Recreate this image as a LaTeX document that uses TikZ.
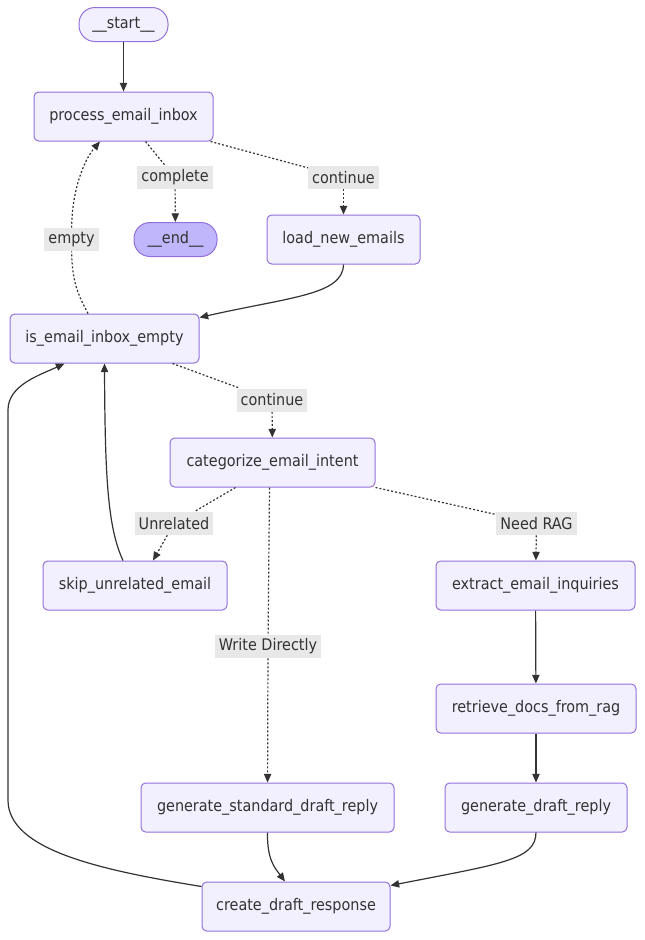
\documentclass[tikz,border=0pt]{standalone}
\usepackage{fontspec}
\setmainfont{DejaVu Sans Condensed}
\usetikzlibrary{arrows.meta}
\definecolor{nodefill}{HTML}{F2F0FF}
\definecolor{nodeline}{HTML}{9370DB}
\definecolor{endfill}{HTML}{BFB6FC}
\definecolor{lblfill}{HTML}{E8E8E8}
\definecolor{ink}{HTML}{333333}
\newcommand{\pxu}{0.75pt}

\begin{document}
\begin{tikzpicture}[x=0.75pt, y=-0.75pt,
        box/.style={draw=nodeline, fill=nodefill, line width=0.75pt, rounded corners=3.5pt,
            text=ink, font=\fontsize{12}{14}\selectfont, inner sep=0pt, minimum height=49*\pxu},
        term/.style={box, rounded corners=12pt, minimum height=34*\pxu},
        lbl/.style={fill=lblfill, text=ink, font=\fontsize{12}{14}\selectfont,
            inner xsep=3pt, inner ysep=0pt, minimum height=23*\pxu},
        flow/.style={draw=ink, line width=0.9pt, -{Triangle[length=6.5pt,width=5.5pt]}},
        dline/.style={draw=ink, line width=0.9pt, dash pattern=on 1.5pt off 1.5pt},
        dflow/.style={flow, dash pattern=on 1.5pt off 1.5pt}]
        \useasboundingbox[fill=white] (0,0) rectangle (644,940);

        % Graph nodes
        \node[term, minimum width=89*\pxu] (start) at (123.5,24.5) {\_\_start\_\_};
        \node[box, minimum width=179*\pxu] (process) at (123.5,116.5) {process\_email\_inbox};
        \node[term, fill=endfill, minimum width=83*\pxu] (end) at (175.5,239.5) {\_\_end\_\_};
        \node[box, minimum width=153*\pxu] (load) at (343.5,239.5) {load\_new\_emails};
        \node[box, minimum width=189*\pxu] (isempty) at (104.5,338.5) {is\_email\_inbox\_empty};
        \node[box, minimum width=205*\pxu] (categorize) at (272.5,462.5) {categorize\_email\_intent};
        \node[box, minimum width=184*\pxu] (skip) at (135,585.5) {skip\_unrelated\_email};
        \node[box, minimum width=199*\pxu] (extract) at (535.5,585.5) {extract\_email\_inquiries};
        \node[box, minimum width=200*\pxu] (retrieve) at (536,708.5) {retrieve\_docs\_from\_rag};
        \node[box, minimum width=253*\pxu] (genstd) at (267.5,807.5) {generate\_standard\_draft\_reply};
        \node[box, minimum width=182*\pxu] (gendraft) at (536,807.5) {generate\_draft\_reply};
        \node[box, minimum width=188*\pxu] (create) at (296,906.5) {create\_draft\_response};

        % Edge labels
        \node[lbl] (lcomplete) at (175,177.5) {complete};
        \node[lbl] (lcontA) at (343.5,177.5) {continue};
        \node[lbl] (lempty) at (71.5,239.5) {empty};
        \node[lbl] (lcontB) at (272,400) {continue};
        \node[lbl] (lunrel) at (174,523.5) {Unrelated};
        \node[lbl] (lrag) at (536.5,523.5) {Need RAG};
        \node[lbl] (lwrite) at (268,646.5) {Write Directly};

        % Straight solid edges
        \foreach \a/\b in {start/process, extract/retrieve, retrieve/gendraft}
            \draw[flow] (\a) -- (\b);

        % Conditional edges (dotted)
        \draw[dline] ([xshift=22*\pxu]process.south) -- (lcomplete);
        \draw[dflow] (lcomplete) -- (end);
        \draw[dline] ([xshift=-3*\pxu]process.south east) -- (lcontA);
        \draw[dflow] (lcontA) -- (load);
        \draw[dline] ([xshift=-16.5*\pxu]isempty.north) .. controls (80,298) and (72,285) .. (lempty);
        \draw[dflow] (lempty) .. controls (72,190) and (84,160) .. ([xshift=-23.5*\pxu]process.south);
        \draw[dline] ([xshift=68*\pxu]isempty.south) -- (lcontB);
        \draw[dflow] (lcontB) -- (categorize);
        \draw[dline] ([xshift=-37*\pxu]categorize.south) -- (lunrel);
        \draw[dflow] (lunrel) -- ([xshift=18*\pxu]skip.north);
        \draw[dline] (categorize.south east) -- (lrag);
        \draw[dflow] (lrag) -- (extract);
        \draw[dline] ([xshift=-3*\pxu]categorize.south) -- (lwrite);
        \draw[dflow] (lwrite) -- (genstd);

        % Curved solid edges
        \draw[flow] (load.south) .. controls (343,295) and (290,297) .. ([yshift=-4*\pxu]isempty.north east);
        \draw[flow] ([xshift=-12*\pxu]skip.north) .. controls (108,528) and (105,480) .. (isempty.south);
        \draw[flow] (genstd.south) .. controls (267,860) and (275,868) .. ([xshift=-11*\pxu]create.north);
        \draw[flow] (gendraft.south) .. controls (536,860) and (500,864) .. ([yshift=-4*\pxu]create.north east);
        \draw[flow] ([yshift=-5*\pxu]create.north west) .. controls (100,870) and (8,850) .. (8,800)
            -- (8,410) .. controls (8,385) and (40,375) .. ([xshift=-40*\pxu]isempty.south);
    \end{tikzpicture}
\end{document}
